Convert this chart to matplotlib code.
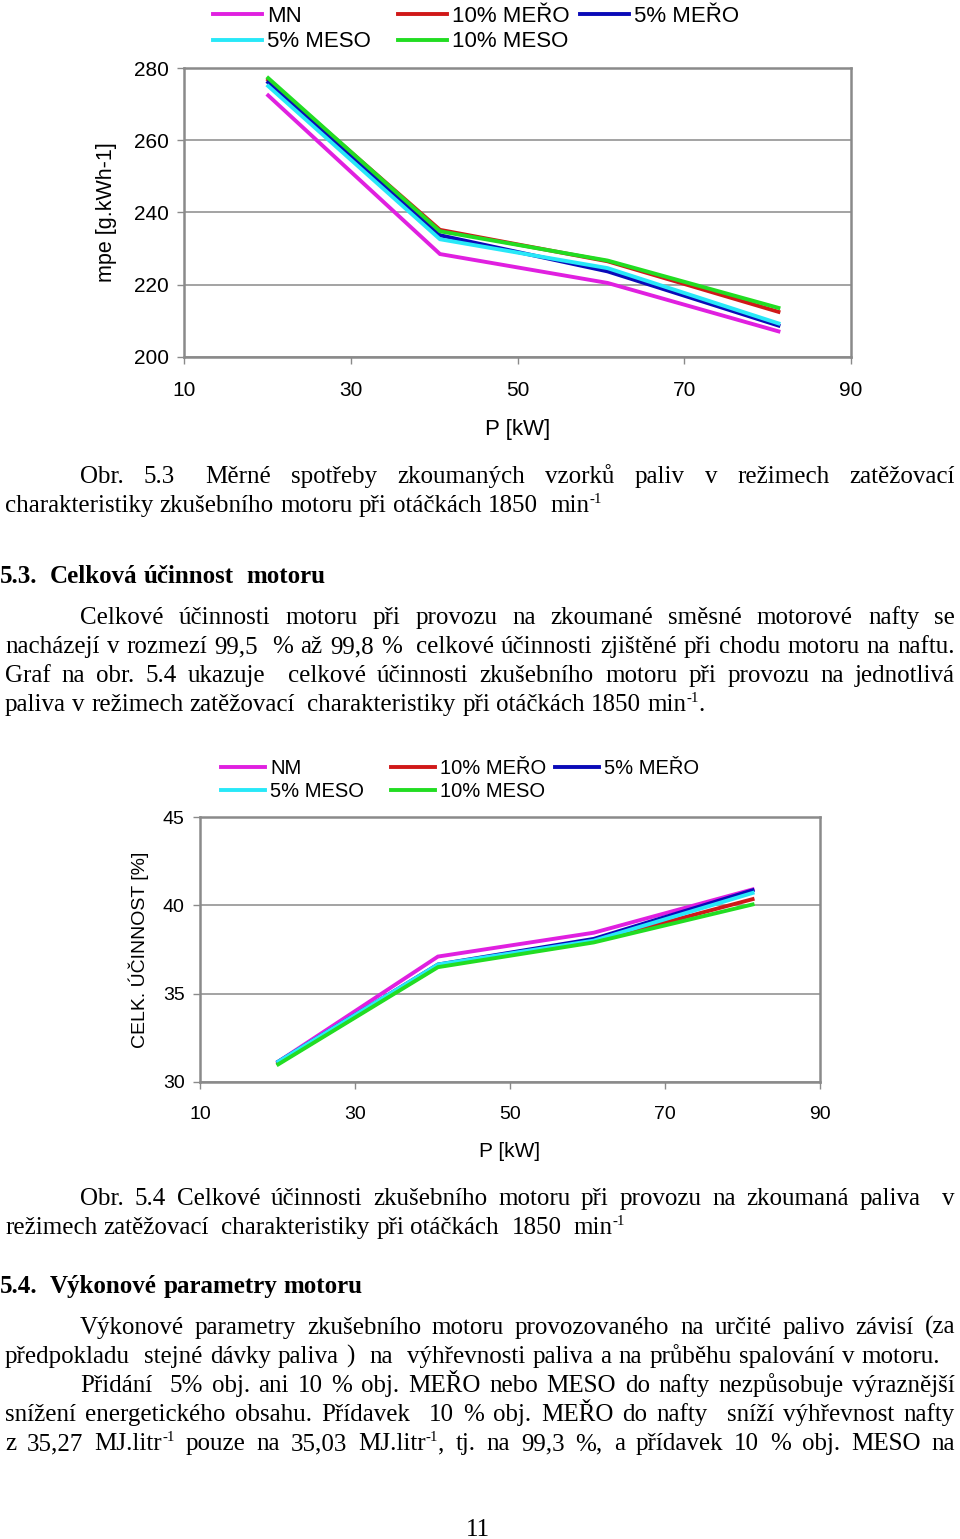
import matplotlib
matplotlib.use("Agg")
import matplotlib.pyplot as plt

# data
p_kw = [20.1, 40.7, 60.8, 81.3]

spotreba_mn = [272.4, 228.5, 220.5, 207.1]
spotreba_mero10 = [276.7, 235.2, 226.5, 212.5]
spotreba_mero5 = [276.0, 233.7, 223.7, 208.7]
spotreba_meso5 = [275.0, 232.6, 224.6, 209.3]
spotreba_meso10 = [277.2, 234.8, 226.7, 213.6]

ucinnost_nm = [31.15, 37.1, 38.45, 40.9]
ucinnost_mero10 = [31.05, 36.55, 37.95, 40.35]
ucinnost_mero5 = [31.15, 36.65, 38.1, 40.85]
ucinnost_meso5 = [31.15, 36.65, 38.0, 40.7]
ucinnost_meso10 = [31.0, 36.5, 37.9, 40.05]

x_ticks = [10, 30, 50, 70, 90]
y_ticks_1 = [200, 220, 240, 260, 280]
y_ticks_2 = [30, 35, 40, 45]

W, H = 960, 1539
SANS = "Liberation Sans"
SERIF = "Liberation Serif"

colors = {
    "mn": "#e020e0",
    "mero10": "#d01818",
    "mero5": "#0a0ab8",
    "meso5": "#28e8f8",
    "meso10": "#22dd22",
}

fig = plt.figure(figsize=(W / 100, H / 100), dpi=100)


def ax_at(left, top, right, bottom):
    return fig.add_axes([left / W, 1 - bottom / H, (right - left) / W, (bottom - top) / H])


def style_axes(ax, yt, tick_fs):
    ax.set_xlim(10, 90)
    ax.set_xticks(x_ticks)
    ax.set_yticks(yt)
    ax.set_ylim(yt[0], yt[-1])
    for s in ax.spines.values():
        s.set_color("#8a8a8a")
        s.set_linewidth(1.8)
    ax.yaxis.grid(True, color="#8a8a8a", linewidth=1.1)
    ax.set_axisbelow(True)
    ax.tick_params(direction="out", length=5, width=1, color="#8a8a8a",
                   labelsize=tick_fs, labelfontfamily=SANS, pad=12)
    ax.tick_params(axis="y", pad=6)


def draw_series(ax, series, labels, fs, x_left, x_third, y_top, colsp):
    lines = {}
    for key, vals in series:
        (ln,) = ax.plot(p_kw, vals, color=colors[key], linewidth=2.8,
                        solid_joinstyle="miter")
        lines[key] = ln
    opts = dict(loc="upper left", bbox_transform=fig.transFigure, frameon=False,
                prop={"family": SANS, "size": fs}, handlelength=2.2,
                handletextpad=0.25, labelspacing=0.2, borderpad=0, borderaxespad=0)
    order = ["mn", "meso5", "mero10", "meso10"]
    leg = ax.legend([lines[k] for k in order], [labels[k] for k in order], ncol=2,
                    bbox_to_anchor=(x_left / W, 1 - y_top / H), columnspacing=colsp, **opts)
    ax.add_artist(leg)
    ax.legend([lines["mero5"]], [labels["mero5"]],
              bbox_to_anchor=(x_third / W, 1 - y_top / H), **opts)


# --- chart 1 ---
ax1 = ax_at(184, 68, 851, 357)
style_axes(ax1, y_ticks_1, 15)
draw_series(ax1, [("mn", spotreba_mn), ("mero10", spotreba_mero10),
                  ("mero5", spotreba_mero5), ("meso5", spotreba_meso5),
                  ("meso10", spotreba_meso10)],
            {"mn": "MN", "mero10": "10% MEŘO", "mero5": "5% MEŘO",
             "meso5": "5% MESO", "meso10": "10% MESO"},
            16, 213, 580, 6, 1.2)
ax1.set_xlabel("P [kW]", family=SANS, fontsize=16, labelpad=14)
ax1.set_ylabel("mpe [g.kWh-1]", family=SANS, fontsize=15.5, labelpad=12)

# --- chart 2 ---
ax2 = ax_at(200, 817, 820, 1082)
style_axes(ax2, y_ticks_2, 14)
draw_series(ax2, [("mn", ucinnost_nm), ("mero10", ucinnost_mero10),
                  ("mero5", ucinnost_mero5), ("meso5", ucinnost_meso5),
                  ("meso10", ucinnost_meso10)],
            {"mn": "NM", "mero10": "10% MEŘO", "mero5": "5% MEŘO",
             "meso5": "5% MESO", "meso10": "10% MESO"},
            14.5, 221, 555, 759, 1.3)
ax2.set_xlabel("P [kW]", family=SANS, fontsize=15, labelpad=14)
ax2.set_ylabel("CELK. ÚČINNOST [%]", family=SANS, fontsize=14, labelpad=10)

# --- body text ---
renderer = fig.canvas.get_renderer()
BODY = 18


def measure(txt, size, weight="normal"):
    if not txt:
        return 0.0
    t = fig.text(0, 0, txt, family=SERIF, fontsize=size, weight=weight)
    w = t.get_window_extent(renderer).width
    t.remove()
    return w


SPACE = measure("a a", BODY) - measure("aa", BODY)


def put_line(y, line, x0, x1=None, size=BODY, weight="normal"):
    # '^' marks a superscript "-1" right after the word
    words = line.split(" ")
    segs = []
    total = 0.0
    for w in words:
        parts = []
        if "^" in w:
            a, b = w.split("^", 1)
            parts = [(a, False), ("-1", True), (b, False)]
        else:
            parts = [(w, False)]
        ww = 0.0
        for txt, sup in parts:
            ww += measure(txt, size * 0.6 if sup else size, weight)
        segs.append(parts)
        total += ww
    gap = SPACE if x1 is None else (x1 - x0 - total) / max(len(words) - 1, 1)
    x = x0
    for parts in segs:
        for txt, sup in parts:
            if not txt:
                continue
            fs = size * 0.6 if sup else size
            yy = y - 9 if sup else y
            fig.text(x / W, 1 - yy / H, txt, family=SERIF, fontsize=fs,
                     weight=weight, va="baseline", ha="left")
            x += measure(txt, fs, weight)
        x += gap


put_line(483, "Obr.  5.3   Měrné  spotřeby  zkoumaných  vzorků  paliv  v  režimech  zatěžovací", 80, 955)
put_line(512, "charakteristiky zkušebního motoru při otáčkách 1850  min^", 5)

put_line(583, "5.3.  Celková účinnost  motoru", 0, weight="bold")

put_line(624, "Celkové účinnosti motoru při provozu na zkoumané směsné motorové nafty se", 80, 955)
put_line(653, "nacházejí v rozmezí 99,5  % až 99,8 %  celkové účinnosti zjištěné při chodu motoru na naftu.", 5, 955)
put_line(682, "Graf na obr. 5.4 ukazuje  celkové účinnosti zkušebního motoru při provozu na jednotlivá", 5, 955)
put_line(711, "paliva v režimech zatěžovací  charakteristiky při otáčkách 1850 min^.", 5)

put_line(1205, "Obr. 5.4 Celkové účinnosti zkušebního motoru při provozu na zkoumaná paliva  v", 80, 955)
put_line(1234, "režimech zatěžovací  charakteristiky při otáčkách  1850  min^", 5)

put_line(1293, "5.4.  Výkonové parametry motoru", 0, weight="bold")

put_line(1334, "Výkonové parametry zkušebního motoru provozovaného na určité palivo závisí (za", 80, 955)
put_line(1363, "předpokladu  stejné dávky paliva )  na  výhřevnosti paliva a na průběhu spalování v motoru.", 5, 940)
put_line(1392, "Přidání  5% obj. ani 10 % obj. MEŘO nebo MESO do nafty nezpůsobuje výraznější", 80, 955)
put_line(1421, "snížení energetického obsahu. Přídavek  10 % obj. MEŘO do nafty  sníží výhřevnost nafty", 5, 955)
put_line(1450, "z 35,27 MJ.litr^ pouze na 35,03 MJ.litr^, tj. na 99,3 %, a přídavek 10 % obj. MESO na", 5, 955)

fig.text(478 / W, 1 - 1536 / H, "11", family=SERIF, fontsize=BODY, ha="center", va="baseline")

fig.savefig("out.png", dpi=100)
